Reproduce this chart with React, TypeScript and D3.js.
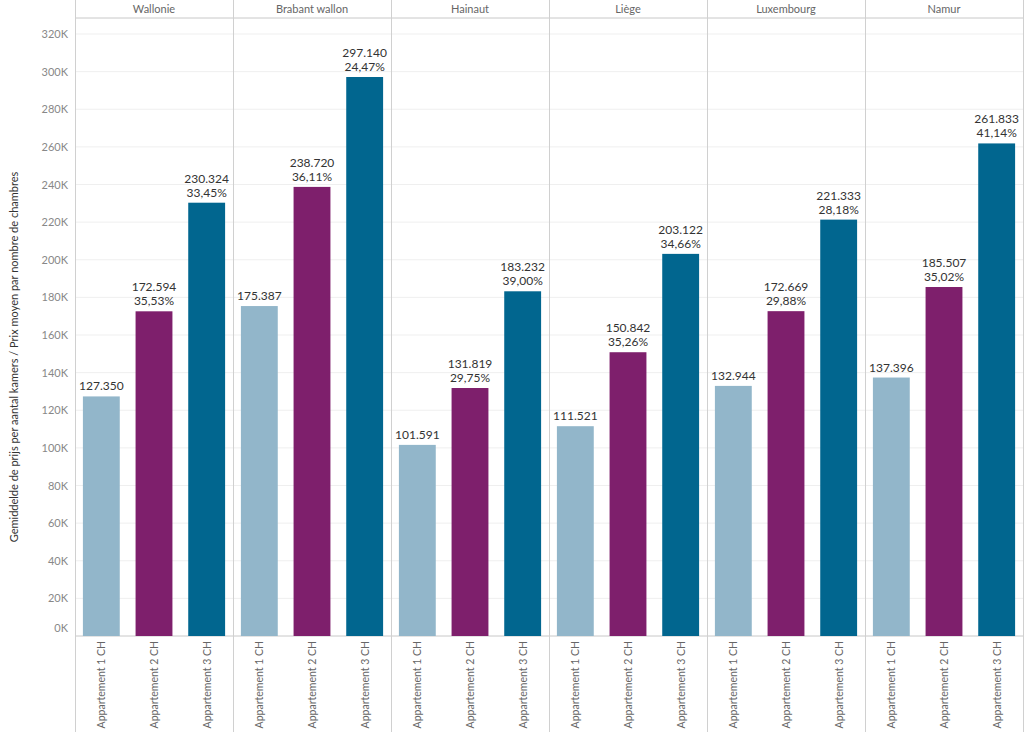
import React from "react";
import * as d3 from "d3";

const regions = ["Wallonie", "Brabant wallon", "Hainaut", "Liège", "Luxembourg", "Namur"];
const types = ["Appartement 1 CH", "Appartement 2 CH", "Appartement 3 CH"];
const values1 = [127350, 175387, 101591, 111521, 132944, 137396];
const values2 = [172594, 238720, 131819, 150842, 172669, 185507];
const values3 = [230324, 297140, 183232, 203122, 221333, 261833];
const pct2 = ["35,53%", "36,11%", "29,75%", "35,26%", "29,88%", "35,02%"];
const pct3 = ["33,45%", "24,47%", "39,00%", "34,66%", "28,18%", "41,14%"];
const yTicks = [0, 20000, 40000, 60000, 80000, 100000, 120000, 140000, 160000, 180000, 200000, 220000, 240000, 260000, 280000, 300000, 320000];
const colors = ["#92b6ca", "#7e1f6c", "#01668f"];
const yTitle = "Gemiddelde de prijs per aantal kamers / Prix moyen par nombre de chambres";

const W = 1024, H = 732;
const left = 75, right = 1023, top = 18, baseY = 636;
const FONT = "Lato, 'Open Sans', sans-serif";

export default function App() {
  const panel = d3.scaleBand<string>().domain(regions).range([left, right]);
  const inner = d3.scaleBand<string>().domain(types).range([0, panel.bandwidth()]).paddingInner(0.3).paddingOuter(0.15);
  const y = d3.scaleLinear().domain([0, 320000]).range([baseY, 34]);
  const fmt = (v: number) => d3.format(",")(v).replace(/,/g, ".");
  const series = [values1, values2, values3];
  const pcts = [null, pct2, pct3];

  return (
    <div style={{ position: "fixed", left: 0, top: 0, width: W, height: H, background: "#fff" }}>
      <svg width={W} height={H} style={{ display: "block", fontFamily: FONT }}>
        {yTicks.map((t) => (
          <line key={"g" + t} x1={left} x2={right} y1={y(t)} y2={y(t)} stroke={t === 0 ? "#c8c8c8" : "#efefef"} strokeWidth={1} />
        ))}
        <line x1={left} x2={right} y1={top} y2={top} stroke="#c8c8c8" />
        {[...regions.map((r) => panel(r)!), right].map((x, i) => (
          <line key={"v" + i} x1={x + 0.5} x2={x + 0.5} y1={0} y2={H} stroke="#d0d0d0" />
        ))}
        {regions.map((r) => (
          <text key={"h" + r} x={panel(r)! + panel.bandwidth() / 2} y={13} textAnchor="middle" fontSize={11} fill="#666">
            {r}
          </text>
        ))}
        {yTicks.map((t) => (
          <text key={"t" + t} x={68} y={t === 0 ? y(t) - 4 : y(t) + 4} textAnchor="end" fontSize={11} fill="#888">
            {t / 1000 + "K"}
          </text>
        ))}
        <text transform={`translate(18,${(top + baseY) / 2 + 30}) rotate(-90)`} textAnchor="middle" fontSize={11} fill="#333">
          {yTitle}
        </text>
        {regions.map((r, ri) =>
          types.map((tp, ti) => {
            const v = series[ti][ri];
            const x = panel(r)! + inner(tp)!;
            const bw = inner.bandwidth();
            const cx = x + bw / 2;
            const p = pcts[ti];
            return (
              <g key={r + tp}>
                <rect x={x} y={y(v)} width={bw} height={baseY - y(v)} fill={colors[ti]} />
                {p ? (
                  <>
                    <text x={cx} y={y(v) - 20} textAnchor="middle" fontSize={12} fill="#333">{fmt(v)}</text>
                    <text x={cx} y={y(v) - 6} textAnchor="middle" fontSize={12} fill="#333">{p[ri]}</text>
                  </>
                ) : (
                  <text x={cx} y={y(v) - 6} textAnchor="middle" fontSize={12} fill="#333">{fmt(v)}</text>
                )}
                <text transform={`translate(${cx + 4},${baseY + 5}) rotate(-90)`} textAnchor="end" fontSize={10.5} fill="#666">
                  {tp}
                </text>
              </g>
            );
          })
        )}
      </svg>
    </div>
  );
}
